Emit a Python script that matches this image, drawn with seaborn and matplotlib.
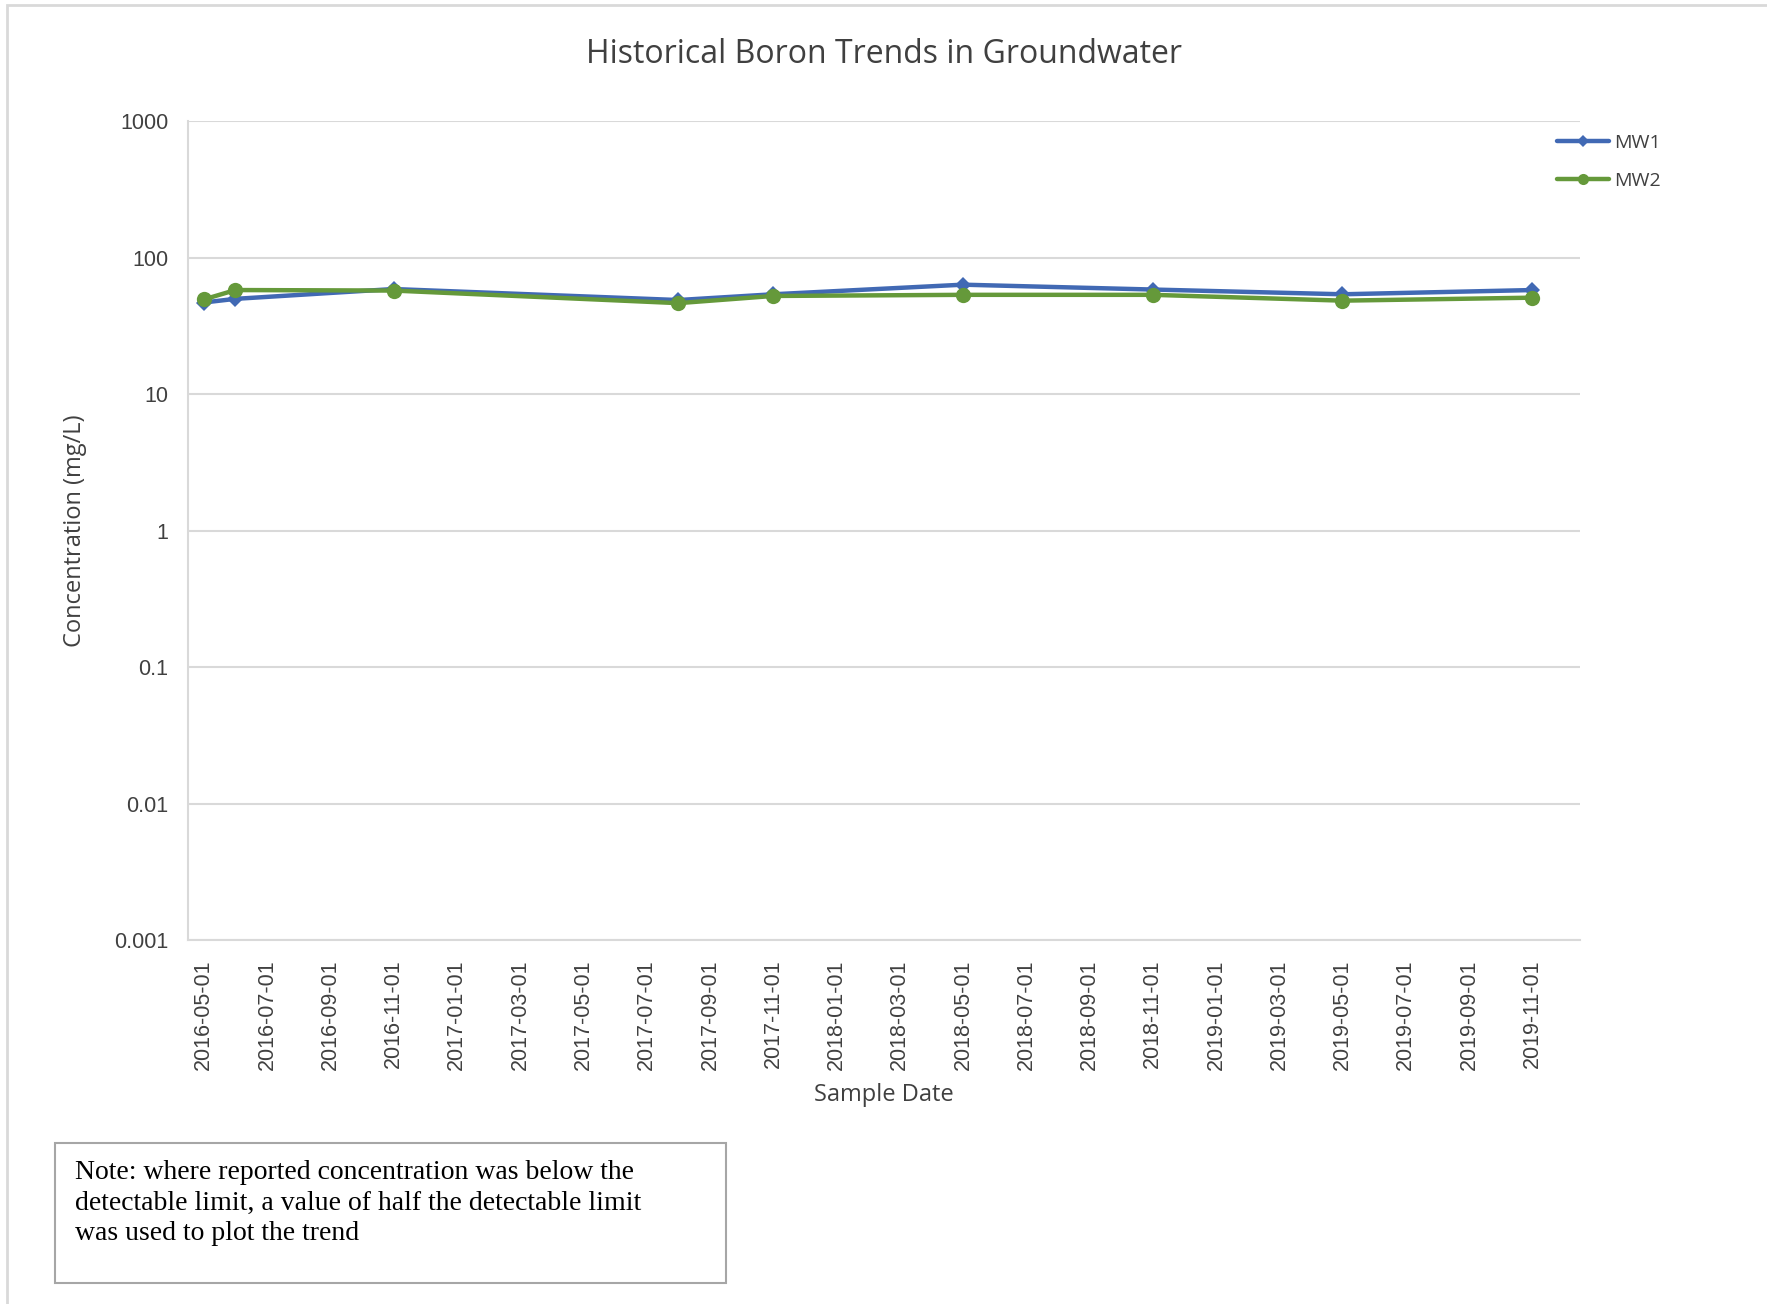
import numpy as np
import pandas as pd
import matplotlib
matplotlib.use("Agg")
import matplotlib.pyplot as plt
import seaborn as sns
from matplotlib.patches import Rectangle

# sample months (Excel date axis with month base unit)
sample_dates = ["2016-05-01", "2016-06-01", "2016-11-01", "2017-08-01", "2017-11-01",
                "2018-05-01", "2018-11-01", "2019-05-01", "2019-11-01"]
mw1 = [47, 50, 59, 49, 54, 63.5, 58.5, 54, 58]
mw2 = [49.5, 58, 57.5, 46.5, 52.5, 53.5, 53.5, 48.5, 51]
wells = ["MW1", "MW2"]

axis_start = pd.Timestamp("2016-05-01")
axis_end = pd.Timestamp("2019-12-01")
y_ticks = [0.001, 0.01, 0.1, 1, 10, 100, 1000]
y_labels = ["0.001", "0.01", "0.1", "1", "10", "100", "1000"]

def month_pos(d):
    d = pd.Timestamp(d)
    return (d.year - axis_start.year) * 12 + (d.month - axis_start.month) + 0.5

df = pd.DataFrame({
    "date": sample_dates * 2,
    "conc": mw1 + mw2,
    "well": [wells[0]] * len(mw1) + [wells[1]] * len(mw2),
})
df["x"] = df["date"].map(month_pos)

sns.set_style("white")
plt.rcParams["font.family"] = ["Open Sans", "DejaVu Sans"]

fig = plt.figure(figsize=(17.67, 13.04), dpi=100)
ax = fig.add_axes([0.1064, 0.279, 0.7876, 0.628])

palette = {"MW1": "#4169B4", "MW2": "#65993A"}
sns.lineplot(data=df, x="x", y="conc", hue="well", style="well", palette=palette,
             markers={"MW1": "D", "MW2": "o"}, dashes=False, linewidth=3.2,
             markeredgewidth=0, ax=ax, sort=False)
for line in ax.lines:
    if line.get_marker() == "D":
        line.set_markersize(8)
    else:
        line.set_markersize(11)

ax.set_yscale("log")
ax.set_ylim(0.001, 1000)
ax.set_yticks(y_ticks)
ax.set_yticklabels(y_labels)
ax.yaxis.set_minor_locator(matplotlib.ticker.NullLocator())
ax.grid(axis="y", color="#d9d9d9", linewidth=1.5)
ax.set_axisbelow(True)

n_months = month_pos(axis_end) + 0.5
ax.set_xlim(0, n_months)
months = pd.date_range(axis_start, axis_end, freq="2MS")
ax.set_xticks([month_pos(m) for m in months])
ax.set_xticklabels([m.strftime("%Y-%m-%d") for m in months], rotation=90,
                   fontfamily="Liberation Sans")
ax.set_xticks(np.arange(0, n_months + 0.1, 2), minor=True)
ax.tick_params(axis="x", which="major", length=0, pad=14, labelsize=15.5, colors="#404040")
ax.tick_params(axis="x", which="minor", length=7, width=1.5, color="#d0d0d0", direction="out")
ax.tick_params(axis="y", length=0, pad=14, labelsize=15.5, labelcolor="#404040")
for lab in ax.get_yticklabels():
    lab.set_fontfamily("Liberation Sans")

for s in ["top", "right"]:
    ax.spines[s].set_visible(False)
for s in ["left", "bottom"]:
    ax.spines[s].set_color("#d9d9d9")
    ax.spines[s].set_linewidth(1.5)

ax.set_xlabel("Sample Date", fontsize=17, color="#404040", labelpad=9)
ax.set_ylabel("Concentration (mg/L)", fontsize=17, color="#404040", labelpad=20)
fig.text(0.5, 0.958, "Historical Boron Trends in Groundwater", ha="center", va="center",
         fontsize=23, color="#404040")

handles, labels = ax.get_legend_handles_labels()
leg = fig.legend(handles, labels, loc="upper left", bbox_to_anchor=(0.871, 0.911),
                 frameon=False, fontsize=14, handlelength=2.7, labelspacing=1.05,
                 handletextpad=0.25, labelcolor="#404040")
for h in leg.legend_handles:
    if h.get_marker() == "D":
        h.set_markersize(6)
    else:
        h.set_markersize(8)
if ax.get_legend():
    ax.get_legend().remove()

# outer chart border
fig.patches.append(Rectangle((7 / 1767, -0.01), 1.1, 1 - 5 / 1304 + 0.01,
                             transform=fig.transFigure, fill=False,
                             edgecolor="#d9d9d9", linewidth=2))

# note box
fig.patches.append(Rectangle((55 / 1767, 1 - 1283 / 1304), 671 / 1767, 140 / 1304,
                             transform=fig.transFigure, fill=False,
                             edgecolor="#a6a6a6", linewidth=1.5))
fig.text(75 / 1767, 1 - 1160 / 1304,
         "Note: where reported concentration was below the\n"
         "detectable limit, a value of half the detectable limit\n"
         "was used to plot the trend",
         ha="left", va="top", fontsize=20, fontfamily="Liberation Serif",
         color="black", linespacing=1.3)

fig.savefig("out.png", dpi=100)
